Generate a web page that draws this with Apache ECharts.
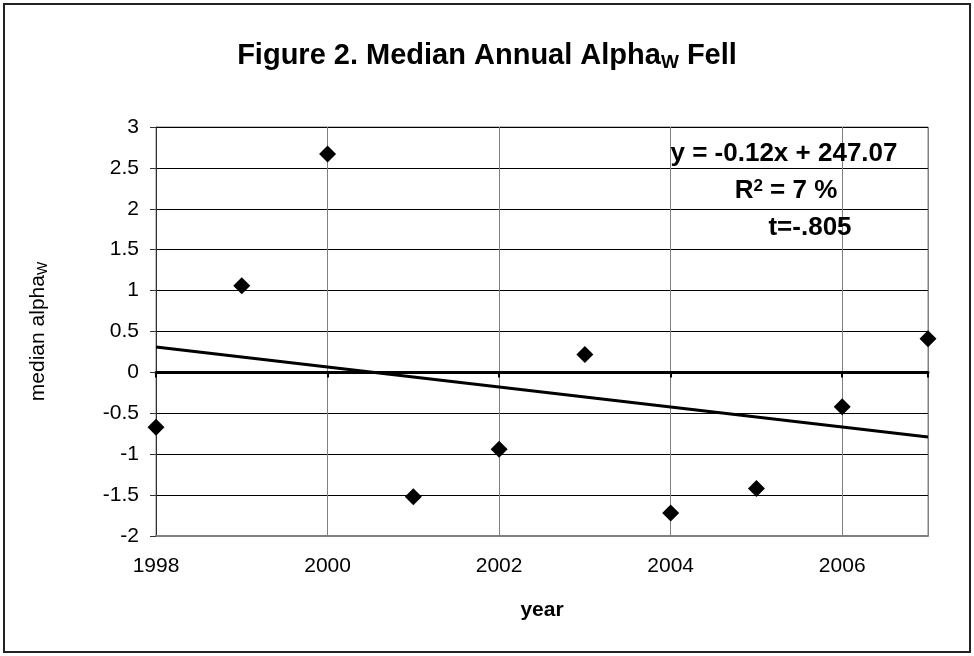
<!DOCTYPE html>
<html>
<head>
<meta charset="utf-8">
<script src="https://cdn.jsdelivr.net/npm/echarts@6/dist/echarts.min.js"></script>
<style>
  html, body { margin: 0; padding: 0; background: #fff; }
  #chart { width: 974px; height: 656px; }
</style>
</head>
<body>
<div id="chart"></div>
<script>
// data
var years = [1998, 1999, 2000, 2001, 2002, 2003, 2004, 2005, 2006, 2007];
var medianAlpha = [-0.67, 1.06, 2.67, -1.52, -0.94, 0.22, -1.72, -1.42, -0.42, 0.41];
// linear trend line, end points as drawn
var trendYears = [1998, 2007];
var trendValues = [0.31, -0.79];

var FONT = 'Liberation Sans, Arial, sans-serif';

var myChart = echarts.init(document.getElementById('chart'));

var points = years.map(function (y, i) { return [y, medianAlpha[i]]; });
var trend = trendYears.map(function (y, i) { return [y, trendValues[i]]; });

myChart.setOption({
  animation: false,
  backgroundColor: '#fff',
  title: {
    text: 'Figure 2. Median Annual Alpha{s|W} Fell',
    left: 'center',
    top: 34,
    textStyle: {
      fontFamily: FONT,
      fontSize: 29,
      fontWeight: 'bold',
      color: '#000',
      lineHeight: 33,
      rich: {
        s: { fontFamily: FONT, fontSize: 19, fontWeight: 'bold', color: '#000', verticalAlign: 'bottom', padding: [10, 0, 0, 0] }
      }
    }
  },
  grid: {
    left: 156,
    right: 46,
    top: 127,
    bottom: 120,
    show: true,
    borderColor: '#808080',
    borderWidth: 1
  },
  xAxis: [{
    type: 'value',
    min: 1998,
    max: 2007,
    interval: 2,
    name: 'year',
    nameLocation: 'middle',
    nameGap: 64,
    nameTextStyle: { fontFamily: FONT, fontSize: 21, fontWeight: 'bold', color: '#000' },
    axisLine: { onZero: false, lineStyle: { color: '#808080', width: 2 } },
    axisTick: { show: false },
    axisLabel: {
      margin: 20,
      fontFamily: FONT,
      fontSize: 21,
      color: '#000',
      showMaxLabel: false,
      formatter: function (v) { return String(v); }
    },
    splitLine: { show: true, lineStyle: { color: '#808080', width: 1 } }
  }, {
    // the zero line with its small ticks
    type: 'value',
    position: 'top',
    min: 1998,
    max: 2007,
    interval: 2,
    axisLine: { onZero: true, lineStyle: { color: '#000', width: 3 } },
    axisTick: { show: true, inside: true, length: 5, lineStyle: { color: '#000', width: 2 } },
    axisLabel: { show: false },
    splitLine: { show: false }
  }],
  yAxis: {
    type: 'value',
    min: -2,
    max: 3,
    interval: 0.5,
    name: 'median alpha{s|W}',
    nameLocation: 'middle',
    nameGap: 106,
    nameTextStyle: {
      fontFamily: FONT,
      fontSize: 21,
      color: '#000',
      lineHeight: 24,
      rich: {
        s: { fontFamily: FONT, fontSize: 14, color: '#000', verticalAlign: 'bottom', padding: [8, 0, 0, 0] }
      }
    },
    axisLine: { show: true, onZero: false, lineStyle: { color: '#333', width: 1 } },
    axisTick: { show: true, length: 6, lineStyle: { color: '#333', width: 1 } },
    axisLabel: { margin: 17, fontFamily: FONT, fontSize: 21, color: '#000' },
    splitLine: { show: true, lineStyle: { color: '#000', width: 1 } }
  },
  graphic: [{
    type: 'rect',
    shape: { x: 4, y: 4, width: 966, height: 648 },
    style: { fill: 'none', stroke: '#222', lineWidth: 2 },
    z: 100
  }, {
    type: 'text',
    x: 784, y: 154,
    style: { text: 'y = -0.12x + 247.07', font: 'bold 26px ' + FONT, fill: '#000', textAlign: 'center', textVerticalAlign: 'middle' },
    z: 100
  }, {
    type: 'text',
    x: 786, y: 191,
    style: {
      text: 'R{s|2} = 7 %',
      font: 'bold 26px ' + FONT,
      fill: '#000',
      textAlign: 'center',
      textVerticalAlign: 'middle',
      rich: { s: { font: 'bold 17px ' + FONT, fill: '#000', verticalAlign: 'top' } }
    },
    z: 100
  }, {
    type: 'text',
    x: 810, y: 228,
    style: { text: 't=-.805', font: 'bold 26px ' + FONT, fill: '#000', textAlign: 'center', textVerticalAlign: 'middle' },
    z: 100
  }],
  series: [{
    name: 'median alpha',
    type: 'scatter',
    symbol: 'diamond',
    symbolSize: 17,
    itemStyle: { color: '#000', opacity: 1 },
    data: points,
    z: 5
  }, {
    name: 'trend',
    type: 'line',
    xAxisIndex: 0,
    showSymbol: false,
    symbol: 'none',
    lineStyle: { color: '#000', width: 3 },
    data: trend,
    z: 4
  }]
});
</script>
</body>
</html>
